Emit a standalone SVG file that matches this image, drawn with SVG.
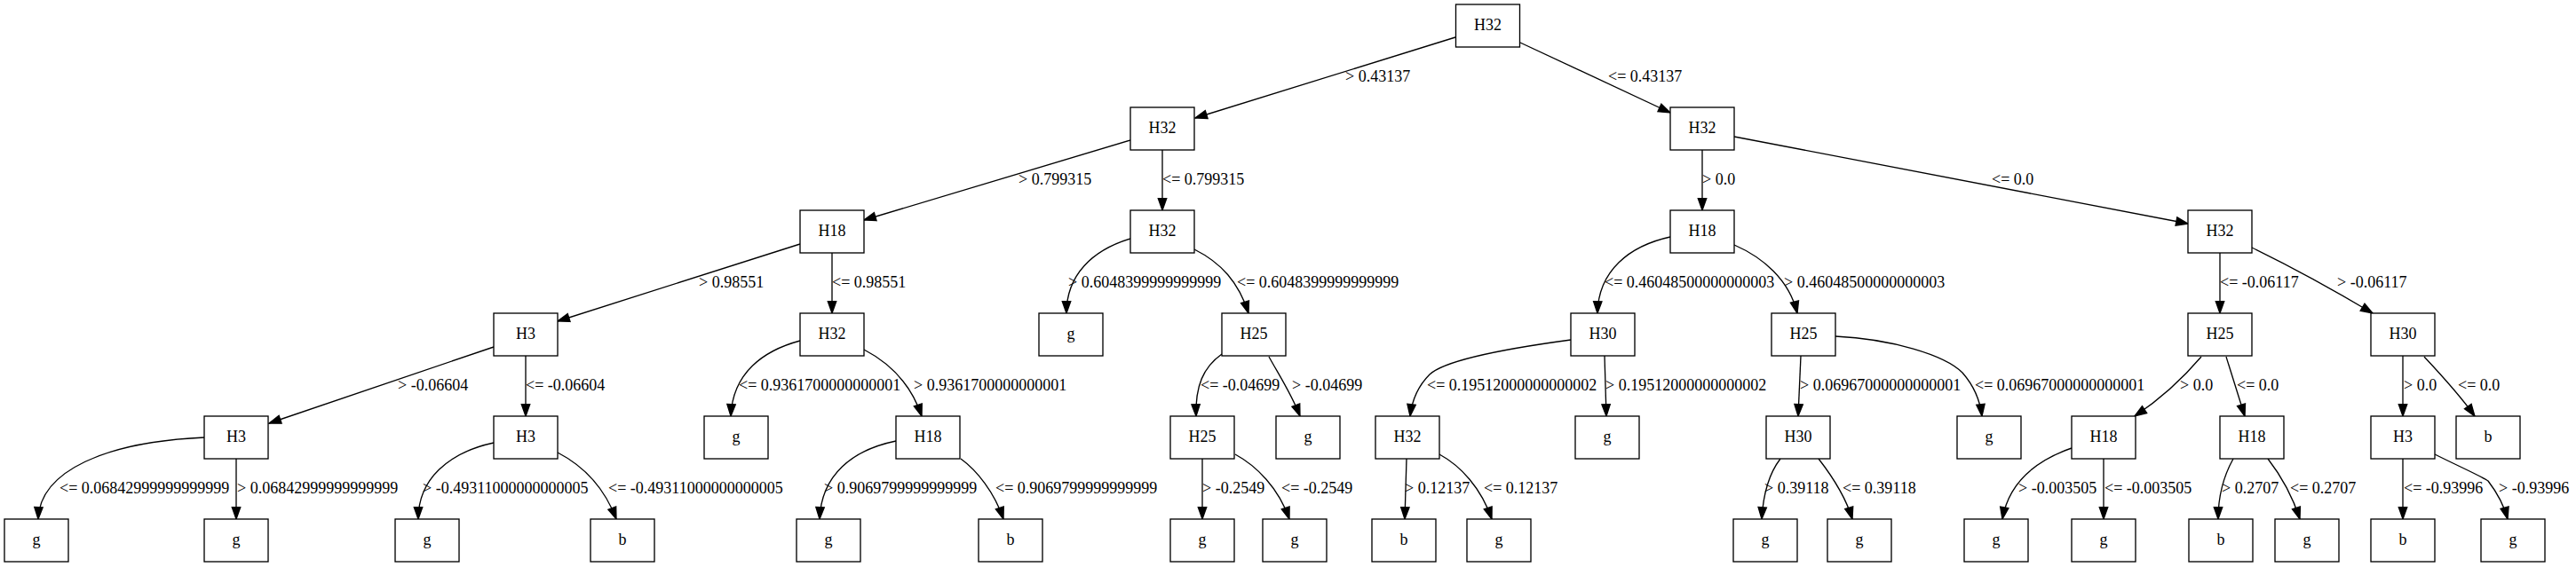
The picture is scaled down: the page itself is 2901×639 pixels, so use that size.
<svg xmlns="http://www.w3.org/2000/svg" width="2901" height="639" viewBox="0 0 2901 639">
<style>
.node rect{fill:#fff;stroke:#000;stroke-width:1.33}
.node text{font-family:"Liberation Serif","Times New Roman",serif;font-size:18px;text-anchor:middle;fill:#000}
.edge{fill:none;stroke:#000;stroke-width:1.33;marker-end:url(#arr)}
.lbl{font-family:"Liberation Serif","Times New Roman",serif;font-size:18px;fill:#000}
</style>
<defs>
<marker id="arr" markerUnits="userSpaceOnUse" markerWidth="16" markerHeight="12" refX="13.3" refY="5" orient="auto" overflow="visible">
<path d="M0,0.3 L13.3,5 L0,9.7 Z" fill="#000" stroke="#000" stroke-width="1.33"/>
</marker>
</defs>
<rect x="0" y="0" width="2901" height="639" fill="#fff"/>
<g id="connectors">
<path class="edge" d="M1639,42 L1346,133"/>
<path class="edge" d="M1712,48 L1881,127"/>
<path class="edge" d="M1273,158 L973,248"/>
<path class="edge" d="M1309,169 L1309,237"/>
<path class="edge" d="M1917,169 L1917,237"/>
<path class="edge" d="M1953,154 L2464,252"/>
<path class="edge" d="M901,275 L628,362"/>
<path class="edge" d="M937,285 L937,353"/>
<path class="edge" d="M1273,269 C1230,282 1201,310 1201,353"/>
<path class="edge" d="M1345,281 C1375,296 1395,318 1406,353"/>
<path class="edge" d="M1881,267 C1835,277 1800,305 1799,353"/>
<path class="edge" d="M1953,276 C1985,290 2015,315 2024,353"/>
<path class="edge" d="M2500,285 L2500,353"/>
<path class="edge" d="M2536,279 C2575,298 2620,322 2672,353"/>
<path class="edge" d="M556,391 L303,477"/>
<path class="edge" d="M592,401 L592,469"/>
<path class="edge" d="M901,384 C860,395 825,420 823,469"/>
<path class="edge" d="M973,394 C1000,408 1025,430 1038,469"/>
<path class="edge" d="M1376,399 C1355,414 1346,435 1347,469"/>
<path class="edge" d="M1429,402 C1440,422 1455,445 1464,469"/>
<path class="edge" d="M1769,383 C1680,395 1625,408 1610,422 C1596,436 1590,452 1588,469"/>
<path class="edge" d="M1807,401 L1809,469"/>
<path class="edge" d="M2028,401 L2025,469"/>
<path class="edge" d="M2067,379 C2130,382 2190,400 2210,420 C2224,436 2230,452 2232,469"/>
<path class="edge" d="M2479,402 C2462,422 2440,445 2404,469"/>
<path class="edge" d="M2507,402 L2528,469"/>
<path class="edge" d="M2706,401 L2706,469"/>
<path class="edge" d="M2730,402 C2745,418 2770,445 2787,469"/>
<path class="edge" d="M230,493 C120,498 45,530 43,585"/>
<path class="edge" d="M266,517 L266,585"/>
<path class="edge" d="M556,499 C505,510 471,540 471,585"/>
<path class="edge" d="M628,510 C655,524 680,548 694,585"/>
<path class="edge" d="M1009,497 C960,507 925,535 923,585"/>
<path class="edge" d="M1082,517 C1100,530 1120,555 1130,585"/>
<path class="edge" d="M1354,517 L1354,585"/>
<path class="edge" d="M1391,512 C1415,525 1440,550 1452,585"/>
<path class="edge" d="M1584,517 L1582,585"/>
<path class="edge" d="M1621,512 C1645,525 1668,550 1680,585"/>
<path class="edge" d="M2005,517 C1995,530 1986,550 1984,585"/>
<path class="edge" d="M2048,517 C2062,535 2078,558 2086,585"/>
<path class="edge" d="M2333,505 C2290,520 2262,545 2255,585"/>
<path class="edge" d="M2369,517 L2369,585"/>
<path class="edge" d="M2515,517 C2505,535 2498,555 2498,585"/>
<path class="edge" d="M2554,517 C2568,535 2582,560 2590,585"/>
<path class="edge" d="M2706,517 L2706,585"/>
<path class="edge" d="M2742,512 C2770,526 2795,537 2802,542 C2812,555 2820,570 2824,585"/>
<g id="edge-labels" class="lbl">
<text x="1515" y="91.7">&gt; 0.43137</text>
<text x="1811" y="91.7">&lt;= 0.43137</text>
<text x="1147" y="207.7">&gt; 0.799315</text>
<text x="1309" y="207.7">&lt;= 0.799315</text>
<text x="1917" y="207.7">&gt; 0.0</text>
<text x="2243" y="207.7">&lt;= 0.0</text>
<text x="787" y="323.7">&gt; 0.98551</text>
<text x="937" y="323.7">&lt;= 0.98551</text>
<text x="1203" y="323.7">&gt; 0.6048399999999999</text>
<text x="1393" y="323.7">&lt;= 0.6048399999999999</text>
<text x="1807" y="323.7">&lt;= 0.46048500000000003</text>
<text x="2009" y="323.7">&gt; 0.46048500000000003</text>
<text x="2500" y="323.7">&lt;= -0.06117</text>
<text x="2632" y="323.7">&gt; -0.06117</text>
<text x="448" y="439.7">&gt; -0.06604</text>
<text x="592" y="439.7">&lt;= -0.06604</text>
<text x="832" y="439.7">&lt;= 0.9361700000000001</text>
<text x="1029" y="439.7">&gt; 0.9361700000000001</text>
<text x="1352" y="439.7">&lt;= -0.04699</text>
<text x="1455" y="439.7">&gt; -0.04699</text>
<text x="1607" y="439.7">&lt;= 0.19512000000000002</text>
<text x="1808" y="439.7">&gt; 0.19512000000000002</text>
<text x="2027" y="439.7">&gt; 0.06967000000000001</text>
<text x="2224" y="439.7">&lt;= 0.06967000000000001</text>
<text x="2455" y="439.7">&gt; 0.0</text>
<text x="2519" y="439.7">&lt;= 0.0</text>
<text x="2707" y="439.7">&gt; 0.0</text>
<text x="2768" y="439.7">&lt;= 0.0</text>
<text x="67" y="555.7">&lt;= 0.06842999999999999</text>
<text x="267" y="555.7">&gt; 0.06842999999999999</text>
<text x="476" y="555.7">&gt; -0.49311000000000005</text>
<text x="685" y="555.7">&lt;= -0.49311000000000005</text>
<text x="928" y="555.7">&gt; 0.9069799999999999</text>
<text x="1121" y="555.7">&lt;= 0.9069799999999999</text>
<text x="1354" y="555.7">&gt; -0.2549</text>
<text x="1443" y="555.7">&lt;= -0.2549</text>
<text x="1582" y="555.7">&gt; 0.12137</text>
<text x="1671" y="555.7">&lt;= 0.12137</text>
<text x="1987" y="555.7">&gt; 0.39118</text>
<text x="2075" y="555.7">&lt;= 0.39118</text>
<text x="2273" y="555.7">&gt; -0.003505</text>
<text x="2370" y="555.7">&lt;= -0.003505</text>
<text x="2502" y="555.7">&gt; 0.2707</text>
<text x="2579" y="555.7">&lt;= 0.2707</text>
<text x="2707" y="555.7">&lt;= -0.93996</text>
<text x="2814" y="555.7">&gt; -0.93996</text>
</g>
</g>
<g id="n0" class="node"><rect x="1639.5" y="5" width="72" height="48"/><text x="1675.5" y="34.3">H32</text></g>
<g id="n1" class="node"><rect x="1273" y="121" width="72" height="48"/><text x="1309" y="150.3">H32</text></g>
<g id="n2" class="node"><rect x="1881" y="121" width="72" height="48"/><text x="1917" y="150.3">H32</text></g>
<g id="n3" class="node"><rect x="901" y="237" width="72" height="48"/><text x="937" y="266.3">H18</text></g>
<g id="n4" class="node"><rect x="1273" y="237" width="72" height="48"/><text x="1309" y="266.3">H32</text></g>
<g id="n5" class="node"><rect x="1881" y="237" width="72" height="48"/><text x="1917" y="266.3">H18</text></g>
<g id="n6" class="node"><rect x="2464" y="237" width="72" height="48"/><text x="2500" y="266.3">H32</text></g>
<g id="n7" class="node"><rect x="556" y="353" width="72" height="48"/><text x="592" y="382.3">H3</text></g>
<g id="n8" class="node"><rect x="901" y="353" width="72" height="48"/><text x="937" y="382.3">H32</text></g>
<g id="n9" class="node"><rect x="1170" y="353" width="72" height="48"/><text x="1206" y="382.3">g</text></g>
<g id="n10" class="node"><rect x="1376" y="353" width="72" height="48"/><text x="1412" y="382.3">H25</text></g>
<g id="n11" class="node"><rect x="1769" y="353" width="72" height="48"/><text x="1805" y="382.3">H30</text></g>
<g id="n12" class="node"><rect x="1995" y="353" width="72" height="48"/><text x="2031" y="382.3">H25</text></g>
<g id="n13" class="node"><rect x="2464" y="353" width="72" height="48"/><text x="2500" y="382.3">H25</text></g>
<g id="n14" class="node"><rect x="2670" y="353" width="72" height="48"/><text x="2706" y="382.3">H30</text></g>
<g id="n15" class="node"><rect x="230" y="469" width="72" height="48"/><text x="266" y="498.3">H3</text></g>
<g id="n16" class="node"><rect x="556" y="469" width="72" height="48"/><text x="592" y="498.3">H3</text></g>
<g id="n17" class="node"><rect x="793" y="469" width="72" height="48"/><text x="829" y="498.3">g</text></g>
<g id="n18" class="node"><rect x="1009" y="469" width="72" height="48"/><text x="1045" y="498.3">H18</text></g>
<g id="n19" class="node"><rect x="1318" y="469" width="72" height="48"/><text x="1354" y="498.3">H25</text></g>
<g id="n20" class="node"><rect x="1437" y="469" width="72" height="48"/><text x="1473" y="498.3">g</text></g>
<g id="n21" class="node"><rect x="1549" y="469" width="72" height="48"/><text x="1585" y="498.3">H32</text></g>
<g id="n22" class="node"><rect x="1774" y="469" width="72" height="48"/><text x="1810" y="498.3">g</text></g>
<g id="n23" class="node"><rect x="1989" y="469" width="72" height="48"/><text x="2025" y="498.3">H30</text></g>
<g id="n24" class="node"><rect x="2204" y="469" width="72" height="48"/><text x="2240" y="498.3">g</text></g>
<g id="n25" class="node"><rect x="2333" y="469" width="72" height="48"/><text x="2369" y="498.3">H18</text></g>
<g id="n26" class="node"><rect x="2500" y="469" width="72" height="48"/><text x="2536" y="498.3">H18</text></g>
<g id="n27" class="node"><rect x="2670" y="469" width="72" height="48"/><text x="2706" y="498.3">H3</text></g>
<g id="n28" class="node"><rect x="2766" y="469" width="72" height="48"/><text x="2802" y="498.3">b</text></g>
<g id="n29" class="node"><rect x="5" y="585" width="72" height="48"/><text x="41" y="614.3">g</text></g>
<g id="n30" class="node"><rect x="230" y="585" width="72" height="48"/><text x="266" y="614.3">g</text></g>
<g id="n31" class="node"><rect x="445" y="585" width="72" height="48"/><text x="481" y="614.3">g</text></g>
<g id="n32" class="node"><rect x="665" y="585" width="72" height="48"/><text x="701" y="614.3">b</text></g>
<g id="n33" class="node"><rect x="897" y="585" width="72" height="48"/><text x="933" y="614.3">g</text></g>
<g id="n34" class="node"><rect x="1102" y="585" width="72" height="48"/><text x="1138" y="614.3">b</text></g>
<g id="n35" class="node"><rect x="1318" y="585" width="72" height="48"/><text x="1354" y="614.3">g</text></g>
<g id="n36" class="node"><rect x="1422" y="585" width="72" height="48"/><text x="1458" y="614.3">g</text></g>
<g id="n37" class="node"><rect x="1545" y="585" width="72" height="48"/><text x="1581" y="614.3">b</text></g>
<g id="n38" class="node"><rect x="1652" y="585" width="72" height="48"/><text x="1688" y="614.3">g</text></g>
<g id="n39" class="node"><rect x="1952" y="585" width="72" height="48"/><text x="1988" y="614.3">g</text></g>
<g id="n40" class="node"><rect x="2058" y="585" width="72" height="48"/><text x="2094" y="614.3">g</text></g>
<g id="n41" class="node"><rect x="2212" y="585" width="72" height="48"/><text x="2248" y="614.3">g</text></g>
<g id="n42" class="node"><rect x="2333" y="585" width="72" height="48"/><text x="2369" y="614.3">g</text></g>
<g id="n43" class="node"><rect x="2465" y="585" width="72" height="48"/><text x="2501" y="614.3">b</text></g>
<g id="n44" class="node"><rect x="2562" y="585" width="72" height="48"/><text x="2598" y="614.3">g</text></g>
<g id="n45" class="node"><rect x="2670" y="585" width="72" height="48"/><text x="2706" y="614.3">b</text></g>
<g id="n46" class="node"><rect x="2794" y="585" width="72" height="48"/><text x="2830" y="614.3">g</text></g>
</svg>
